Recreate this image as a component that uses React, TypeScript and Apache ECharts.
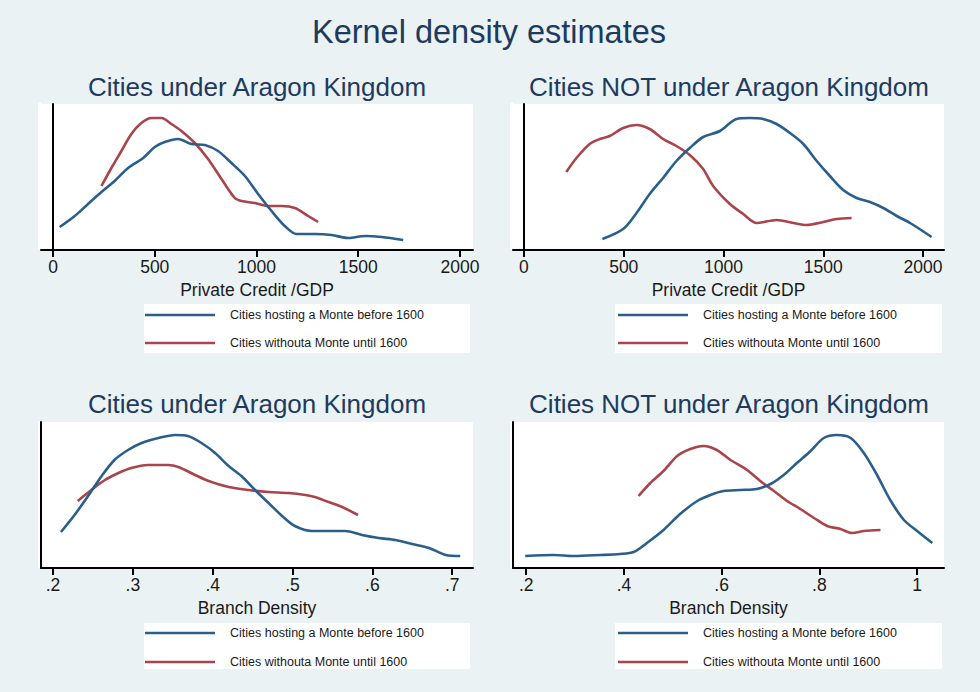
import React, { useEffect, useRef } from "react";
import * as echarts from "echarts";

const MAIN_TITLE = "Kernel density estimates";
const TITLE_ARAGON = "Cities under Aragon Kingdom";
const TITLE_OTHER = "Cities NOT under Aragon Kingdom";
const X_CREDIT = "Private Credit /GDP";
const X_BRANCH = "Branch Density";
const MONTE = "Cities hosting a Monte before 1600";
const NO_MONTE = "Cities withouta Monte until 1600";

const creditTicks = [0, 500, 1000, 1500, 2000];
const branchTicksAragon = [0.2, 0.3, 0.4, 0.5, 0.6, 0.7];
const branchTicksOther = [0.2, 0.4, 0.6, 0.8, 1];

// [x, relative density]
const creditAragonMonte = [[33,23],[107,34],[172,46],[238,58],[303,69],[369,82],[443,92],[500,103],[549,108],[615,111],[680,106],[746,105],[811,99],[877,87],[943,74],[1008,56],[1074,39],[1139,24],[1197,16],[1287,16],[1369,15],[1451,12],[1533,14],[1615,13],[1721,10]];
const creditAragonNoMonte = [[238,64],[287,82],[336,99],[385,116],[434,127],[484,132],[533,132],[582,126],[631,119],[697,107],[762,91],[828,71],[893,52],[926,49],[992,47],[1057,44],[1123,44],[1189,42],[1254,34],[1303,28]];
const creditOtherMonte = [[393,11],[497,21],[564,37],[630,56],[697,72],[764,89],[831,102],[898,113],[982,119],[1065,131],[1132,132],[1199,131],[1266,126],[1333,117],[1400,106],[1467,89],[1533,74],[1600,60],[1667,52],[1734,48],[1801,42],[1868,34],[1935,27],[2043,13]];
const creditOtherNoMonte = [[212,78],[263,92],[329,106],[380,111],[430,114],[497,122],[564,125],[630,121],[697,111],[764,104],[831,95],[898,81],[948,64],[1032,46],[1099,36],[1166,27],[1266,30],[1350,27],[1416,25],[1500,28],[1567,31],[1642,32]];
const branchAragonMonte = [[0.21,36],[0.227,53],[0.244,72],[0.261,92],[0.277,108],[0.294,118],[0.311,125],[0.332,130],[0.353,133],[0.369,132],[0.386,125],[0.403,115],[0.42,102],[0.436,92],[0.453,78],[0.47,65],[0.487,52],[0.503,42],[0.524,37],[0.545,37],[0.566,37],[0.587,33],[0.608,30],[0.629,28],[0.65,24],[0.671,20],[0.692,13],[0.71,12]];
const branchAragonNoMonte = [[0.231,67],[0.248,78],[0.265,88],[0.282,95],[0.298,100],[0.319,103],[0.344,103],[0.357,101],[0.378,93],[0.395,87],[0.42,81],[0.445,78],[0.47,76],[0.495,75],[0.516,73],[0.528,71],[0.545,66],[0.562,61],[0.582,53]];
const branchOtherMonte = [[0.198,12],[0.256,13],[0.297,12],[0.352,13],[0.392,14],[0.42,16],[0.447,25],[0.481,38],[0.515,54],[0.55,67],[0.577,73],[0.604,77],[0.638,78],[0.672,79],[0.7,84],[0.727,93],[0.754,105],[0.782,117],[0.809,130],[0.836,133],[0.864,130],[0.891,115],[0.918,93],[0.945,68],[0.973,48],[1.0,37],[1.031,25]];
const branchOtherNoMonte = [[0.43,72],[0.454,85],[0.481,97],[0.509,112],[0.536,119],[0.563,122],[0.59,118],[0.618,108],[0.652,98],[0.679,87],[0.707,77],[0.734,67],[0.761,59],[0.789,50],[0.816,42],[0.843,39],[0.867,35],[0.891,37],[0.925,38]];

const BG = "#eaf2f3";
const TITLE_COLOR = "#1e3a5f";
const BLUE = "#2a5f8c";
const RED = "#a9444b";
const FONT = "'Liberation Sans', Arial, sans-serif";

const fmtBranch = (v: number) => (v === 1 ? "1" : String(+v.toFixed(2)).replace(/^0\./, "."));

export default function App() {
  const ref = useRef<HTMLDivElement>(null);
  useEffect(() => {
    if (!ref.current) return;
    const chart = echarts.init(ref.current, null, { renderer: "svg" });
    const grids = [
      { left: 41, top: 104, width: 432, height: 146 },
      { left: 513, top: 104, width: 431, height: 146 },
      { left: 41, top: 422, width: 432, height: 146 },
      { left: 513, top: 422, width: 431, height: 146 },
    ].map((g) => ({ ...g, show: true, backgroundColor: "#ffffff", borderWidth: 0 }));

    const xDefs = [
      { min: -59, max: 2064, ticks: creditTicks, name: X_CREDIT, fmt: (v: number) => String(v) },
      { min: -55, max: 2105, ticks: creditTicks, name: X_CREDIT, fmt: (v: number) => String(v) },
      { min: 0.185, max: 0.726, ticks: branchTicksAragon, name: X_BRANCH, fmt: fmtBranch },
      { min: 0.173, max: 1.055, ticks: branchTicksOther, name: X_BRANCH, fmt: fmtBranch },
    ];
    const xAxis = xDefs.map((d, i) => ({
      type: "value",
      gridIndex: i,
      min: d.min,
      max: d.max,
      name: d.name,
      nameLocation: "middle",
      nameGap: 31,
      nameTextStyle: { fontFamily: FONT, fontSize: 17.5, color: "#1a1a1a" },
      axisLine: { show: true, onZero: false, lineStyle: { color: "#000", width: 2 } },
      axisTick: { show: true, length: 7, customValues: d.ticks, lineStyle: { color: "#000", width: 2 } },
      axisLabel: { show: true, customValues: d.ticks, margin: 8, formatter: d.fmt, fontFamily: FONT, fontSize: 17.5, color: "#1a1a1a" },
      splitLine: { show: false },
    }));
    const yAxis = [0, 1, 2, 3].map((i) => ({
      type: "value",
      gridIndex: i,
      min: 0,
      max: 146,
      axisLine: { show: true, lineStyle: { color: "#000", width: 2 } },
      axisTick: { show: false },
      axisLabel: { show: false },
      splitLine: { show: false },
    }));

    const seriesData = [
      [creditAragonMonte, creditAragonNoMonte],
      [creditOtherMonte, creditOtherNoMonte],
      [branchAragonMonte, branchAragonNoMonte],
      [branchOtherMonte, branchOtherNoMonte],
    ];
    const series: any[] = [];
    seriesData.forEach((pair, i) => {
      [MONTE, NO_MONTE].forEach((name, k) => {
        const c = k === 0 ? BLUE : RED;
        series.push({
          type: "line",
          name,
          xAxisIndex: i,
          yAxisIndex: i,
          data: pair[k],
          smooth: 0.3,
          symbol: "none",
          lineStyle: { color: c, width: 2.6 },
          itemStyle: { color: c },
          z: k === 0 ? 3 : 2,
        });
      });
    });

    const legendPos = [
      { left: 145, top: 307, itemGap: 12 },
      { left: 618, top: 307, itemGap: 12 },
      { left: 145, top: 625, itemGap: 13 },
      { left: 618, top: 625, itemGap: 13 },
    ];
    const legend = legendPos.map((p) => ({
      ...p,
      orient: "vertical",
      data: [MONTE, NO_MONTE],
      icon: "rect",
      itemWidth: 70,
      itemHeight: 2.5,
      padding: 0,
      selectedMode: false,
      z: 5,
      textStyle: { fontFamily: FONT, fontSize: 12.5, lineHeight: 16, color: "#1a1a1a", padding: [0, 0, 0, 10] },
    }));

    const boxes = [
      { x: 144, y: 304, width: 326, height: 49 },
      { x: 615, y: 304, width: 327, height: 49 },
      { x: 144, y: 623, width: 326, height: 46 },
      { x: 615, y: 623, width: 327, height: 46 },
    ];
    const plotPads = [
      { x: 38, y: 102, width: 4, height: 148 },
      { x: 510, y: 102, width: 4, height: 148 },
      { x: 38, y: 421, width: 4, height: 147 },
      { x: 510, y: 421, width: 4, height: 147 },
    ];

    const sub = (text: string, left: number, top: number) => ({
      text, left, top, textAlign: "center",
      textStyle: { fontFamily: FONT, fontSize: 26, fontWeight: "normal", color: TITLE_COLOR },
    });

    chart.setOption({
      animation: false,
      backgroundColor: BG,
      title: [
        { text: MAIN_TITLE, left: 484, top: 10, textAlign: "center", textStyle: { fontFamily: FONT, fontSize: 32.5, fontWeight: "normal", color: TITLE_COLOR } },
        sub(TITLE_ARAGON, 252, 69),
        sub(TITLE_OTHER, 724, 69),
        sub(TITLE_ARAGON, 252, 386),
        sub(TITLE_OTHER, 724, 386),
      ],
      grid: grids,
      xAxis,
      yAxis,
      legend,
      series,
      graphic: [
        ...boxes.map((b) => ({ type: "rect", shape: b, style: { fill: "#ffffff" }, z: 1, silent: true })),
        ...plotPads.map((b) => ({ type: "rect", shape: b, style: { fill: "#ffffff" }, z: -1, silent: true })),
      ],
    });
    return () => chart.dispose();
  }, []);
  return <div ref={ref} style={{ position: "fixed", left: 0, top: 0, width: 980, height: 692 }} />;
}
